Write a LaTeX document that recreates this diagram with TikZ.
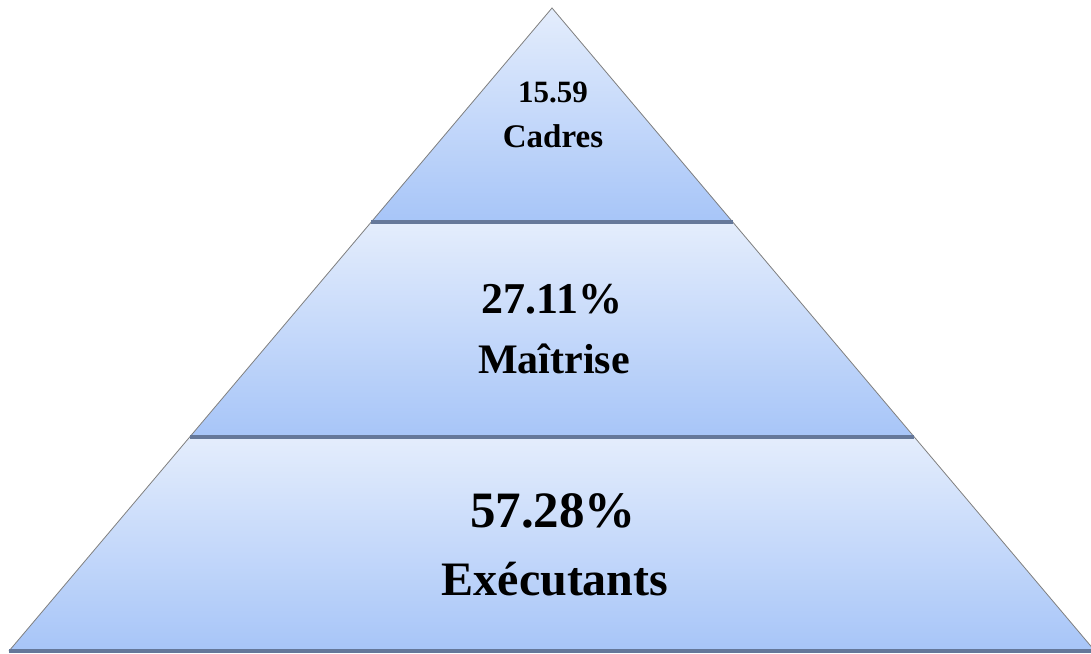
\documentclass[tikz,border=0pt]{standalone}
\usepackage{fontspec}
\setmainfont{Liberation Serif}
\definecolor{bandtop}{HTML}{E4EDFC}
\definecolor{bandbot}{HTML}{A7C5F8}
\definecolor{edgegray}{HTML}{7F7F7F}
\definecolor{sepline}{HTML}{65789A}

\begin{document}
\begin{tikzpicture}
  [x=0.5pt,y=-0.5pt,
   band/.style={top color=bandtop,bottom color=bandbot},
   every node/.style={font=\bfseries, inner sep=0pt, anchor=base}]
  \useasboundingbox (0,0) rectangle (1091,653);

  % corners of the three levels
  \coordinate (apex) at (552,8);
  \coordinate (l1) at (371,222);
  \coordinate (r1) at (733,222);
  \coordinate (l2) at (190,437);
  \coordinate (r2) at (914,437);
  \coordinate (l3) at (9,651);
  \coordinate (r3) at (1095,651);

  \shade[band] (apex) -- (r1) -- (l1) -- cycle;
  \shade[band] (l1) -- (r1) -- (r2) -- (l2) -- cycle;
  \shade[band] (l2) -- (r2) -- (r3) -- (l3) -- cycle;

  \draw[edgegray] (l3) -- (apex) -- (r3);
  \foreach \from/\to in {l1/r1,l2/r2,l3/r3}
    \draw[sepline, line width=1.6] (\from) -- (\to);

  % labels (placed by baseline)
  \node (cadresval) at (553,102) {\fontsize{15.5}{18}\selectfont 15.59};
  \node (cadres) at (553,147) {\fontsize{16.5}{19}\selectfont Cadres};
  \node (maitriseval) at (552,313) {\fontsize{22}{26}\selectfont 27.11\%};
  \node (maitrise) at (554,373) {\fontsize{21}{25}\selectfont Maîtrise};
  \node (execval) at (553,527) {\fontsize{25.5}{30}\selectfont 57.28\%};
  \node (exec) at (555,595) {\fontsize{24}{28}\selectfont Exécutants};
\end{tikzpicture}
\end{document}
